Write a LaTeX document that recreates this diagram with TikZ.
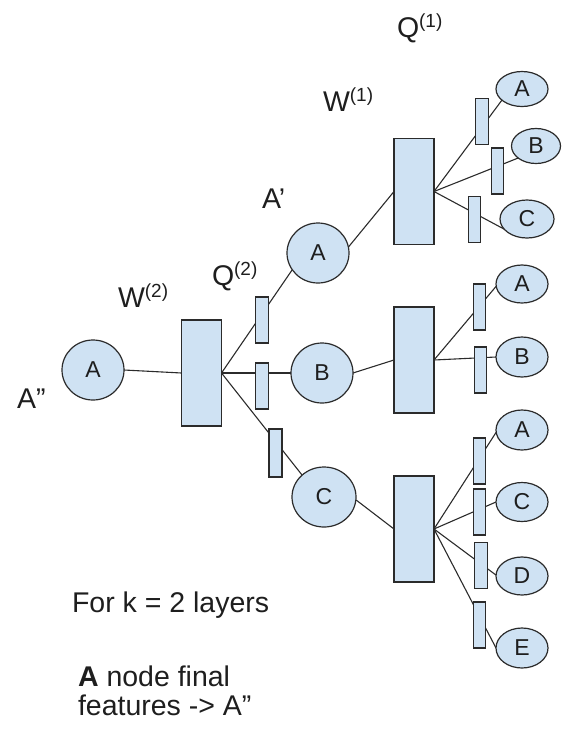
\documentclass[tikz,border=0pt]{standalone}
\usepackage{fontspec}
\setmainfont{Liberation Sans}
\usetikzlibrary{shapes.geometric,backgrounds}
\definecolor{fillblue}{HTML}{CFE2F3}
\definecolor{edgec}{HTML}{2B2B2B}
\definecolor{textc}{HTML}{1E1E1E}
\newcommand{\mysup}[1]{\raisebox{10pt}{\fontsize{19}{19}\selectfont(#1)}}
\begin{document}
\begin{tikzpicture}[x=1pt,y=-1pt,
  every node/.style={inner sep=0pt, outer sep=0pt},
  blk/.style={draw=edgec, fill=fillblue, line width=1.2pt, rectangle, minimum width=40pt, minimum height=106pt},
  gate/.style={draw=edgec, fill=fillblue, line width=1.2pt, rectangle, minimum width=12.5pt, minimum height=46pt},
  bignode/.style={draw=edgec, fill=fillblue, line width=1.2pt, ellipse, minimum width=62pt, minimum height=60pt, text=textc, font=\fontsize{23}{23}\selectfont},
  leaf/.style={draw=edgec, fill=fillblue, line width=1.2pt, ellipse, minimum width=52pt, minimum height=38pt, text=textc, font=\fontsize{23}{23}\selectfont},
  conn/.style={draw=edgec, line width=1.1pt},
  lbl/.style={anchor=base west, font=\fontsize{28.5}{32}\selectfont, text=textc},
]
\useasboundingbox (0,0) rectangle (562,729);

% labels
\node[lbl] (q1) at (397,37) {Q\mysup{1}};
\node[lbl] (w1) at (323,111) {W\mysup{1}};
\node[lbl] (ap) at (262,208) {A’};
\node[lbl] (q2) at (212,285) {Q\mysup{2}};
\node[lbl] (w2) at (118,307) {W\mysup{2}};
\node[lbl] (app) at (17,408) {A”};
\node[lbl] (t1) at (72,612) {For k = 2 layers};
\node[lbl] (t2) at (78,686) {\textbf{A} node final};
\node[lbl] (t3) at (78,715) {features -> A”};

% layer 2
\node[bignode] (root) at (93,370) {A};
\node[blk] (R1) at (201.5,373) {};
\node[gate] (g1) at (262,320) {};
\node[gate] (g2) at (262,386) {};
\node[gate, minimum width=13pt, minimum height=48pt] (g3) at (275.5,453) {};
\node[bignode] (nA) at (318,253) {A};
\node[bignode] (nB) at (322,373) {B};
\node[bignode, minimum width=64pt] (nC) at (324,497) {C};

% layer 1 blocks
\node[blk] (R2) at (414,191.5) {};
\node[blk] (R3) at (414,360) {};
\node[blk] (R4) at (414,529) {};

% top group
\node[gate] (ga) at (482,121.5) {};
\node[gate] (gb) at (497.5,171) {};
\node[gate] (gc) at (474.5,219.5) {};
\node[leaf, minimum height=35pt] (aA) at (522,89) {A};
\node[leaf, minimum width=49pt, minimum height=35pt] (aB) at (536,146) {B};
\node[leaf, minimum width=54pt] (aC) at (527,219) {C};

% middle group
\node[gate] (gd) at (479.5,307) {};
\node[gate] (ge) at (480.5,370) {};
\node[leaf] (bA) at (522,284) {A};
\node[leaf, minimum height=40pt] (bB) at (522,357) {B};

% bottom group
\node[gate] (gf) at (479.5,461) {};
\node[gate] (gg) at (479.5,512) {};
\node[gate, minimum width=13.5pt] (gh) at (481,565.5) {};
\node[gate] (gi) at (479.5,625) {};
\node[leaf, minimum height=40pt] (cA) at (522,430) {A};
\node[leaf, minimum height=39pt] (cC) at (522,502) {C};
\node[leaf] (cD) at (522,576) {D};
\node[leaf, minimum height=40pt] (cE) at (522,648) {E};

\begin{pgfonlayer}{background}
\draw[conn] (root.east) -- (R1.west);
\draw[conn] (R1.east) -- (nA.213);
\draw[conn] (R1.east) -- (nB.west);
\draw[conn] (R1.east) -- (nC.135);
\draw[conn] (nA.11) -- (R2.west);
\draw[conn] (nB.east) -- (R3.west);
\draw[conn] (nC.355) -- (R4.west);
\draw[conn] (R2.east) -- (aA.209);
\draw[conn] (R2.east) -- (aB.214);
\draw[conn] (R2.east) -- (aC.204);
\draw[conn] (R3.east) -- (bA.185);
\draw[conn] (R3.east) -- (bB.west);
\draw[conn] (R4.east) -- (cA.185);
\draw[conn] (R4.east) -- (cC.west);
\draw[conn] (R4.east) -- (cD.178);
\draw[conn] (R4.east) -- (cE.west);
\end{pgfonlayer}
\end{tikzpicture}
\end{document}
